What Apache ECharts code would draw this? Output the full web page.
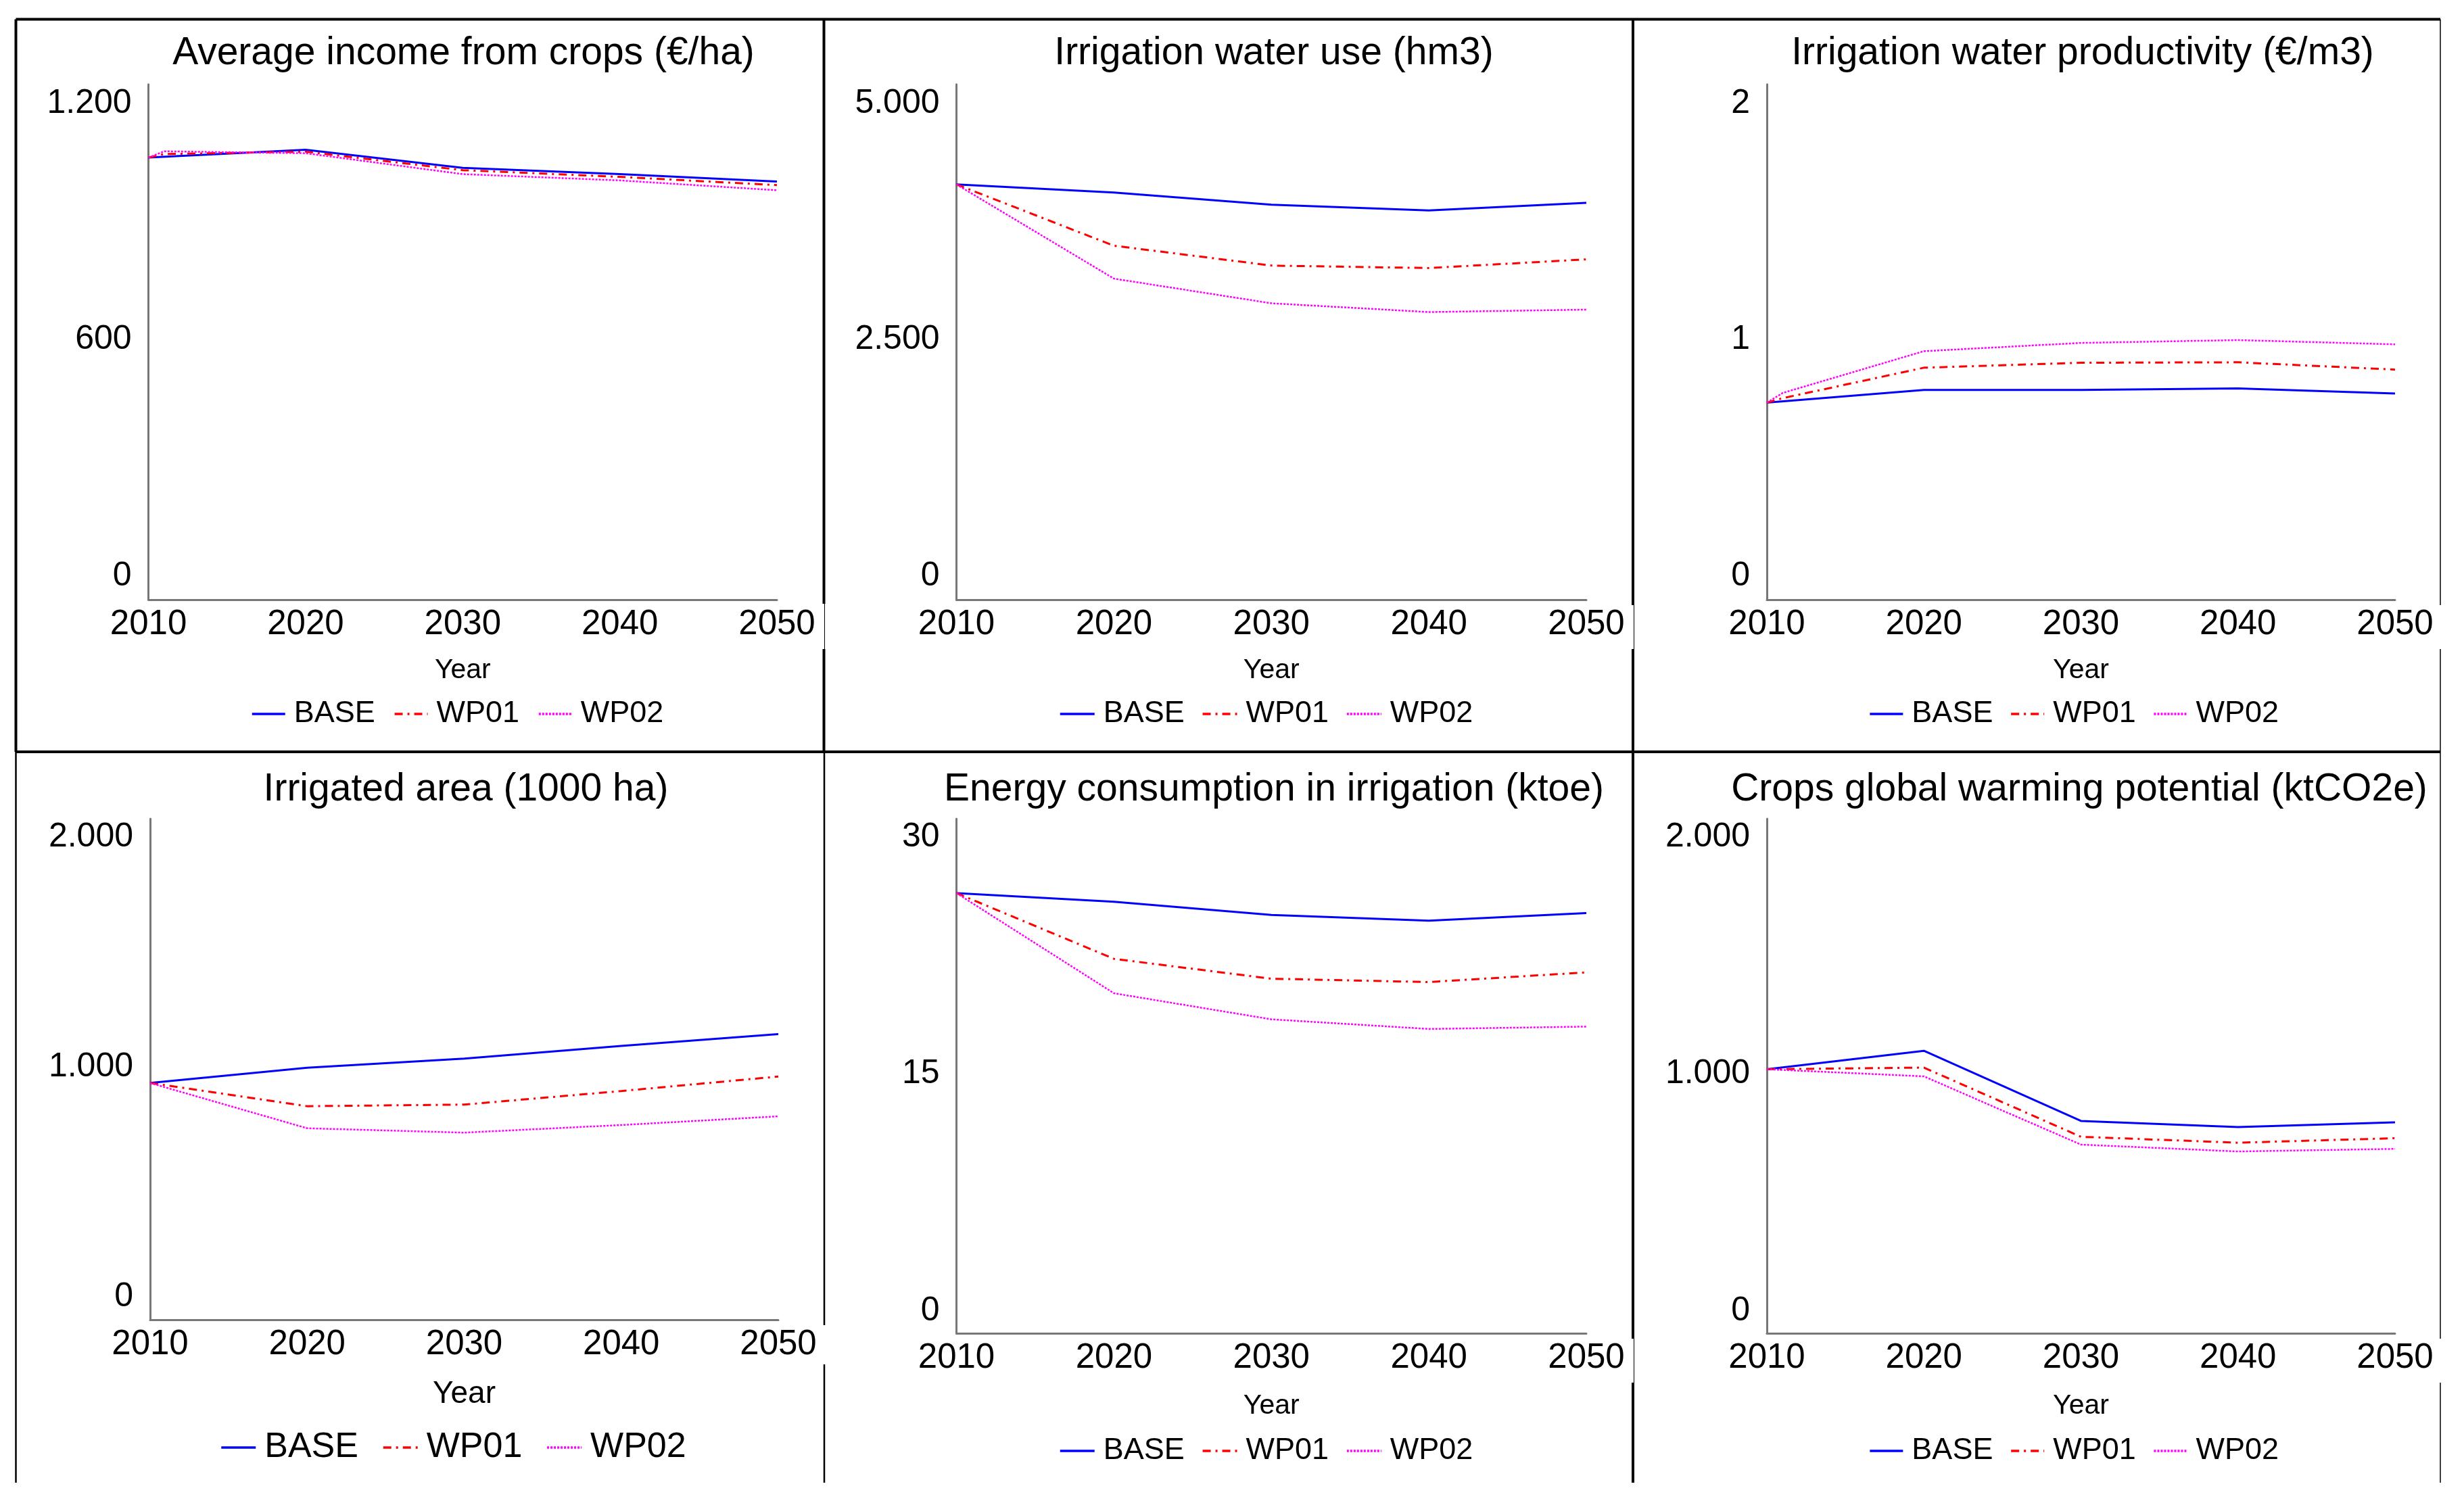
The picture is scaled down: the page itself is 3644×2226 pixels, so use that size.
<!DOCTYPE html>
<html><head><meta charset="utf-8">
<script src="https://cdn.jsdelivr.net/npm/echarts@6/dist/echarts.min.js"></script>
<style>html,body{margin:0;padding:0;background:#fff}#c{width:3644px;height:2226px}</style>
</head><body><div id="c"></div>
<script>
// ---------- DATA ----------
const years = [2010, 2020, 2030, 2040, 2050];
const yearsEarly = [2010, 2011, 2020, 2030, 2040, 2050];
const scenarioNames = ['BASE', 'WP01', 'WP02'];
const xAxisName = 'Year';
const titles = [
  'Average income from crops (€/ha)',
  'Irrigation water use (hm3)',
  'Irrigation water productivity (€/m3)',
  'Irrigated area (1000 ha)',
  'Energy consumption in irrigation (ktoe)',
  'Crops global warming potential (ktCO2e)'
];
const incomeTicks = [0, 600, 1200];
const waterTicks = [0, 2500, 5000];
const prodTicks = [0, 1, 2];
const areaTicks = [0, 1000, 2000];
const energyTicks = [0, 15, 30];
const gwpTicks = [0, 1000, 2000];

const incomeBase = [1063, 1083, 1037, 1021, 1002];
const incomeWP01 = [1063, 1072, 1078, 1031, 1014, 993];
const incomeWP02 = [1063, 1079, 1074, 1021, 1005, 980];

const waterBase = [4145, 4059, 3931, 3869, 3951];
const waterWP01 = [4145, 3496, 3286, 3260, 3352];
const waterWP02 = [4145, 3148, 2887, 2794, 2820];

const prodBase = [0.734, 0.788, 0.788, 0.794, 0.773];
const prodWP01 = [0.734, 0.753, 0.882, 0.903, 0.905, 0.874];
const prodWP02 = [0.734, 0.775, 0.952, 0.987, 0.999, 0.981];

const areaBase = [930, 996, 1036, 1091, 1143];
const areaWP01 = [930, 829, 836, 895, 958];
const areaWP02 = [930, 733, 714, 747, 785];

const energyBase = [26.45, 25.9, 25.07, 24.7, 25.19];
const energyWP01 = [26.45, 22.29, 21.03, 20.82, 21.43];
const energyWP02 = [26.45, 20.11, 18.46, 17.85, 18.0];

const gwpBase = [1020, 1098, 802, 776, 796];
const gwpWP01 = [1020, 1027, 735, 710, 729];
const gwpWP02 = [1020, 990, 702, 673, 684];

// ---------- PANELS (data binding) ----------
const panels = [
  { title: titles[0], ticks: incomeTicks, series: [[years, incomeBase], [yearsEarly, incomeWP01], [yearsEarly, incomeWP02]] },
  { title: titles[1], ticks: waterTicks, series: [[years, waterBase], [years, waterWP01], [years, waterWP02]] },
  { title: titles[2], ticks: prodTicks, series: [[years, prodBase], [yearsEarly, prodWP01], [yearsEarly, prodWP02]] },
  { title: titles[3], ticks: areaTicks, series: [[years, areaBase], [years, areaWP01], [years, areaWP02]] },
  { title: titles[4], ticks: energyTicks, series: [[years, energyBase], [years, energyWP01], [years, energyWP02]] },
  { title: titles[5], ticks: gwpTicks, series: [[years, gwpBase], [years, gwpWP01], [years, gwpWP02]] }
];

// ---------- LAYOUT / STYLE ----------
const FONT = '"Liberation Sans", Arial, sans-serif';
const layout = [
  { x0: 219.6, x1: 1149, yTop: 124.8, yAx: 887, lTop: 153.3, lBot: 852, tx: 680.5, ty: 74, nameY: 992, nameFont: 41, lgX: 371, lgY: 1056, lgFont: 45, iconW: 49, itemGap: 27 },
  { x0: 1414.5, x1: 2346, yTop: 124.8, yAx: 887, lTop: 153.3, lBot: 852, tx: 1879, ty: 74, nameY: 992, nameFont: 41, lgX: 1566, lgY: 1056, lgFont: 45, iconW: 51, itemGap: 25 },
  { x0: 2613, x1: 3542, yTop: 124.8, yAx: 887, lTop: 153.3, lBot: 852, tx: 3075, ty: 74, nameY: 992, nameFont: 41, lgX: 2763.6, lgY: 1056, lgFont: 45, iconW: 49, itemGap: 25 },
  { x0: 222, x1: 1151, yTop: 1211, yAx: 1952, lTop: 1238, lBot: 1918, tx: 684, ty: 1163.5, nameY: 2062, nameFont: 46, lgX: 325.5, lgY: 2141, lgFont: 52, iconW: 51, itemGap: 35 },
  { x0: 1414.5, x1: 2346, yTop: 1211, yAx: 1972, lTop: 1238, lBot: 1939, tx: 1879, ty: 1163.5, nameY: 2080, nameFont: 41, lgX: 1566, lgY: 2146, lgFont: 45, iconW: 51, itemGap: 25 },
  { x0: 2613, x1: 3542, yTop: 1211, yAx: 1972, lTop: 1238, lBot: 1939, tx: 3070, ty: 1163.5, nameY: 2080, nameFont: 41, lgX: 2763.6, lgY: 2146, lgFont: 45, iconW: 49, itemGap: 25 }
];
const lineStyles = [
  { color: '#0000FF', width: 3, type: 'solid' },
  { color: '#FF0000', width: 3, type: [12, 7, 3, 7] },
  { color: '#FF00FF', width: 2.5, type: [3, 2] }
];
const fmtY = v => String(v).replace(/\B(?=(\d{3})+(?!\d))/g, '.');

const option = { animation: false, backgroundColor: '#fff', title: [], grid: [], xAxis: [], yAxis: [], legend: [], series: [] };

panels.forEach((p, i) => {
  const g = layout[i];
  const tmax = Math.max(...p.ticks);
  const pxPer = (g.lBot - g.lTop) / tmax;
  const yMin = -(g.yAx - g.lBot) / pxPer;
  const yMax = tmax + (g.lTop - g.yTop) / pxPer;
  option.title.push({ text: p.title, left: g.tx, top: g.ty - 29, textAlign: 'center',
    textStyle: { fontSize: 57, fontWeight: 'normal', color: '#000', fontFamily: FONT, lineHeight: 58 } });
  option.grid.push({ left: g.x0, top: g.yTop, width: g.x1 - g.x0, height: g.yAx - g.yTop });
  option.xAxis.push({ gridIndex: i, type: 'value', min: 2010, max: 2050, interval: 10,
    axisLine: { onZero: false, lineStyle: { color: '#777', width: 3 } },
    axisTick: { show: false }, splitLine: { show: false },
    axisLabel: { formatter: v => String(v), fontSize: 51, color: '#000', margin: 11, fontFamily: FONT, showMinLabel: true, showMaxLabel: true },
    name: xAxisName, nameLocation: 'middle', nameGap: g.nameY - g.yAx - g.nameFont / 2,
    nameTextStyle: { fontSize: g.nameFont, color: '#000', fontFamily: FONT } });
  option.yAxis.push({ gridIndex: i, type: 'value', min: yMin, max: yMax,
    axisLine: { show: true, onZero: false, lineStyle: { color: '#777', width: 3 } },
    axisTick: { show: false }, splitLine: { show: false },
    axisLabel: { customValues: p.ticks, formatter: fmtY, fontSize: 50, color: '#000', margin: 25, fontFamily: FONT } });
  option.legend.push({ left: g.lgX, top: g.lgY - g.lgFont / 2, padding: 0, itemWidth: g.iconW, itemHeight: 2,
    itemGap: g.itemGap, selectedMode: false, data: scenarioNames,
    itemStyle: { opacity: 0, borderWidth: 0 },
    lineStyle: { width: 3.5 },
    textStyle: { fontSize: g.lgFont, lineHeight: g.lgFont, color: '#000', fontFamily: FONT, padding: [0, 0, 0, 8] } });
  p.series.forEach((s, k) => {
    option.series.push({ type: 'line', name: scenarioNames[k], xAxisIndex: i, yAxisIndex: i,
      data: s[0].map((yr, j) => [yr, s[1][j]]), symbol: 'none', showSymbol: false, silent: true,
      lineStyle: lineStyles[k], itemStyle: { color: lineStyles[k].color }, emphasis: { disabled: true }, z: 2 + k });
  });
});

// table borders around panels
const borders = [
  [23.5, 28.5, 3609, 28.5, 4], [23.5, 1112, 3609, 1112, 4],
  [23.5, 28.5, 23.5, 1112, 4], [23.5, 1112, 23.5, 2193, 2.5],
  [1218.5, 28.5, 1218.5, 893, 4], [1219.5, 893, 1219.5, 960, 1], [1218.5, 960, 1218.5, 1112, 4],
  [1219, 1112, 1219, 1960, 2.5], [1219, 2018, 1219, 2193, 2.5],
  [2415, 28.5, 2415, 895, 4], [2416.5, 895, 2416.5, 960, 1], [2415, 960, 2415, 1980, 4],
  [2416.5, 1980, 2416.5, 2045, 1], [2415, 2045, 2415, 2193, 4],
  [3609, 28.5, 3609, 895, 1.5], [3609, 960, 3609, 1980, 1.5], [3609, 2045, 3609, 2193, 1.5]
];
option.graphic = borders.map(b => ({ type: 'line', silent: true, z: 0,
  shape: { x1: b[0], y1: b[1], x2: b[2], y2: b[3] }, style: { stroke: '#000', lineWidth: b[4] } }));

const chart = echarts.init(document.getElementById('c'), null, { renderer: 'canvas', width: 3644, height: 2226 });
chart.setOption(option);
</script></body></html>
